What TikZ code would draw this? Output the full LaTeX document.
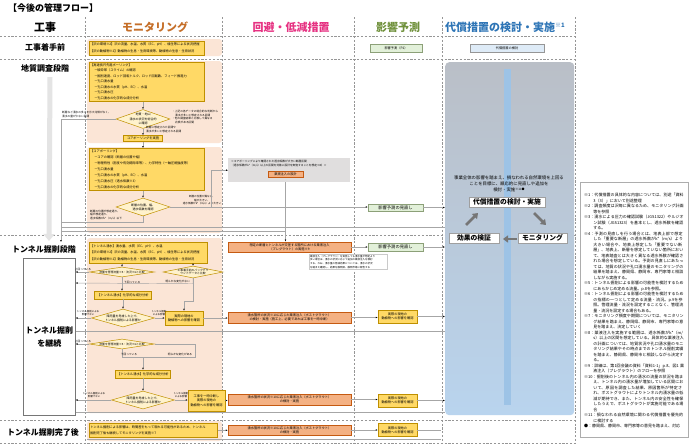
\documentclass[tikz,border=0pt]{standalone}
\usepackage{fontspec}
\setmainfont{Noto Sans CJK JP}
\XeTeXlinebreaklocale "ja"
\XeTeXlinebreakskip=0pt plus 1pt
\usepackage{xcolor}
\definecolor{PeachBg}{RGB}{251,229,214}
\definecolor{YellowFill}{RGB}{255,217,102}
\definecolor{YellowLine}{RGB}{191,144,0}
\definecolor{PaleYellow}{RGB}{255,242,204}
\definecolor{OrangeFill}{RGB}{244,177,131}
\definecolor{OrangeLine}{RGB}{197,90,17}
\definecolor{GreenFill}{RGB}{226,240,217}
\definecolor{GreenLine}{RGB}{140,160,120}
\definecolor{BlueFill}{RGB}{222,235,247}
\definecolor{GrayBox}{RGB}{224,222,222}
\definecolor{LineGray}{RGB}{166,166,166}
\definecolor{DashGray}{RGB}{150,150,150}
\definecolor{HeadOrange}{RGB}{197,110,40}
\definecolor{HeadPink}{RGB}{230,50,130}
\definecolor{HeadGreen}{RGB}{112,145,60}
\definecolor{HeadBlue}{RGB}{46,117,182}
\definecolor{CompTop}{RGB}{186,191,199}
\definecolor{CompBottom}{RGB}{185,212,238}
\definecolor{BarBlue}{RGB}{157,195,230}
\definecolor{ArrowGray}{RGB}{118,118,118}
\definecolor{ArrowLight}{RGB}{228,228,228}
\usepackage{tikz}
\usetikzlibrary{shapes.geometric}
\usetikzlibrary{arrows.meta}
\tikzstyle{Head}=[font=\fontsize{11}{12}\selectfont\bfseries,inner sep=0pt]
\tikzstyle{RowLabel}=[font=\fontsize{8}{13}\selectfont\bfseries,inner sep=0pt]
\tikzstyle{Grid}=[draw=DashGray,line width=.7pt,dash pattern=on 2.2pt off 1.6pt]
\tikzstyle{PeachArea}=[fill=PeachBg,rounded corners=3pt]
\tikzstyle{YBox}=[draw=YellowLine,fill=YellowFill,line width=.5pt,inner sep=1pt,
anchor=north west,align=left,font=\fontsize{3.2}{5.5}\selectfont]
\tikzstyle{YSmall}=[draw=YellowLine,fill=YellowFill,line width=.5pt,inner sep=.5pt,
align=center,font=\fontsize{3.2}{4.3}\selectfont]
\tikzstyle{OBox}=[draw=OrangeLine,fill=OrangeFill,line width=.5pt,inner sep=.5pt,
align=center,font=\fontsize{3.2}{4.2}\selectfont,minimum width=123,minimum height=10.5]
\tikzstyle{GBox}=[draw=GreenLine,fill=GreenFill,line width=.5pt,inner sep=.5pt,
font=\fontsize{4.3}{5}\selectfont,minimum width=55,minimum height=7.5]
\tikzstyle{Decision}=[diamond,draw=YellowLine,fill=PaleYellow,line width=.5pt,inner sep=0pt]
\tikzstyle{DecisionText}=[font=\fontsize{3}{4.2}\selectfont,align=center,inner sep=0pt]
\tikzstyle{EdgeLabel}=[font=\fontsize{2.7}{3.5}\selectfont,align=center,inner sep=0pt]
\tikzstyle{Edge}=[draw=LineGray,line width=.45pt]
\tikzstyle{Tip}=[-{Latex[length=2pt,width=1.7pt,color=black]}]
\tikzstyle{BigArrow}=[draw=ArrowGray,line width=2.6pt,-{Triangle[length=5pt,width=7pt]}]
\tikzstyle{CompBox}=[draw=ArrowGray!70,fill=white,line width=.5pt,inner sep=0pt,
font=\fontsize{6.8}{7}\selectfont\bfseries,minimum height=10]
\newcommand{\NoteItem}[2]{\par\noindent\hangindent=2.3em\hangafter=1 #1#2}

\begin{document}
\begin{tikzpicture}[x=1pt,y=-1pt]
\useasboundingbox[fill=white](0,0)rectangle(690,445);
% monitoring background
\fill[PeachArea](87,39)rectangle(222,56);
\fill[PeachArea](87,61)rectangle(222,143);
\fill[PeachArea](87,147)rectangle(222,233);
\fill[PeachArea](87,238)rectangle(222,413);
\fill[PeachArea](87,421)rectangle(222,441);
% grid
\draw[Grid](0,36)--(575,36);
\draw[Grid](0,59)--(575,59);
\draw[Grid](0,235)--(575,235);
\draw[Grid](0,420)--(575,420);
\draw[Grid](0,443)--(575,443);
\foreach \x in {85,222,354,442,575}
  \draw[Grid](\x,17)--(\x,443);
% headings
\node[font=\fontsize{9}{10}\selectfont\bfseries,anchor=west,inner sep=0pt](title)at(8,8){【今後の管理フロー】};
\node[Head](hWork)at(45,27){工事};
\node[Head,text=HeadOrange](hMon)at(155,27){モニタリング};
\node[Head,text=HeadPink](hAvoid)at(291,27){回避・低減措置};
\node[Head,text=HeadGreen](hPred)at(398,27){影響予測};
\node[Head,text=HeadBlue,anchor=west](hComp)at(445,27){代償措置の検討・実施\raisebox{3.5pt}{\fontsize{6}{6}\selectfont ※1}};
% stages
\node[RowLabel](rPre)at(45,47){工事着手前};
\node[RowLabel](rGeo)at(45,68){地質調査段階};
\node[RowLabel](rTun)at(44,249){トンネル掘削段階};
\node[RowLabel](rEnd)at(43,432){トンネル掘削完了後};
\draw[line width=5pt,draw=ArrowLight,-{Triangle[length=7pt,width=11pt]}]([xshift=5pt,yshift=-5pt]rGeo.south)--([xshift=5pt,yshift=4pt]rTun.north);
\node[RowLabel,draw=ArrowGray,fill=white,line width=.6pt,minimum width=52,minimum height=157,align=center,anchor=north west](cont)at(23,258){トンネル掘削\\を継続};
% compensation column
\node[rounded corners=4pt,top color=CompTop,bottom color=CompBottom,minimum width=129,minimum height=353,anchor=north west](comp)at(445,62){};
\node[fill=BarBlue,minimum width=7,minimum height=336,inner sep=0pt,anchor=north](bar)at(507.5,69){};
\node[font=\fontsize{4.4}{5.8}\selectfont,align=center,inner sep=0pt](compText)at(509,184){事業全体の影響を踏まえ、損なわれる自然環境を上回る\\ことを目標に、順応的に見直しや追加を\\検討・実施\raisebox{1pt}{\fontsize{3}{3}\selectfont ※11●}};
\node[CompBox,minimum width=76](compMain)at(507,202){代償措置の検討・実施};
\node[CompBox,minimum width=50](verify)at(474,238){効果の検証};
\node[CompBox,minimum width=49](monitor)at(542.5,238){モニタリング};
\coordinate(a1s)at(466,225);\coordinate(a1e)at(478,213);
\coordinate(a2s)at(534,213);\coordinate(a2e)at(546,225);
\coordinate(a3s)at(517,239);\coordinate(a3e)at(503,239);
\draw[BigArrow](a1s)--(a1e);
\draw[BigArrow](a2s)--(a2e);
\draw[BigArrow](a3s)--(a3e);
\node[draw=DashGray,fill=BlueFill,line width=.5pt,minimum width=74,minimum height=8,inner sep=0pt,font=\fontsize{3.2}{4}\selectfont](compPre)at(507,48){代償措置の検討};
% before construction
\node[YBox,text width=113,minimum height=13.5,font=\fontsize{3.2}{6.5}\selectfont](mPre)at(89,41){【沢の環境※2】沢の流量、水温、水質（EC、pH）、植生等による状況把握\\【沢の動植物※2】動植物の生息・生育環境等、動植物の生息・生育状況};
\node[GBox,minimum width=52,minimum height=8,font=\fontsize{3.2}{4}\selectfont](predPre)at(396,48){影響予測（P2）};
% geological survey
\node[YBox,text width=113,minimum height=39](mBor)at(89,62){【高速長尺先進ボーリング】\\
\hspace*{4pt}－破砕帯（スライム）の確認\\
\hspace*{4pt}－掘削速度、ロッド回転トルク、ロッド回転数、フィード推進力\\
\hspace*{4pt}－孔口湧水量\\
\hspace*{4pt}－孔口湧水の水質（pH、EC）、水温\\
\hspace*{4pt}－孔口湧水圧\\
\hspace*{4pt}－孔口湧水の化学的な成分分析};
\node[Decision,minimum width=54,minimum height=19,label={[DecisionText]center:{地質・地山\\湧水の状況を総合的\\に確認}}](q1)at(143,119){};
\node[EdgeLabel,align=left,anchor=south west](l1)at(62,117.5){断層など湧水の多さを示す兆候がなく、\\湧水の量が少ない区間};
\node[EdgeLabel,align=left,anchor=west](l2)at(172,117){・上記の各データの総合的な判断から\\\hspace*{3pt}湧水が多いと想定される区間\\・他の調査結果と比較して異なる\\\hspace*{3pt}兆候がある区間};
\node[EdgeLabel,align=left,anchor=west](l3)at(146,129.5){断層に想定された区間や\\湧水が多いと想定される区間};
\node[YSmall,minimum width=39,minimum height=6](doCore)at(143,138.5){コアボーリングを実施};
\node[YBox,text width=113,minimum height=42,font=\fontsize{3.2}{6}\selectfont](mCore)at(89,148){【コアボーリング】\\
\hspace*{4pt}－コアの確認（断層の位置や幅）\\
\hspace*{4pt}－物理特性（密度や有効間隙率等）、力学特性（一軸圧縮強度等）\\
\hspace*{4pt}－孔口湧水量\\
\hspace*{4pt}－孔口湧水の水質（pH、EC）、水温\\
\hspace*{4pt}－孔口湧水圧（透水係数※3）\\
\hspace*{4pt}－孔口湧水の化学的な成分分析};
\node[Decision,minimum width=54,minimum height=18,label={[DecisionText]center:{断層の位置、幅、\\透水係数を確認}}](q2)at(143,207){};
\node[EdgeLabel,font=\fontsize{2.6}{3.3}\selectfont,anchor=south](l4)at(202,205){断層の位置が異なる、\\幅が大きい、\\透水係数がk*（m/s）より大きい};
\node[EdgeLabel,align=left,anchor=north west](l5)at(90,210){断層の位置が想定通り、\\幅が想定通り、\\透水係数がk*（m/s）以下};
\node[fill=GrayBox,minimum width=122,minimum height=24,anchor=north west](avoid)at(228,158){};
\node[EdgeLabel,align=left,anchor=north west](avoidText)at(231,160.5){＜コアボーリングにより確認された透水係数が大きい断層区間\\（透水係数がk*（m/s）以上の区間を対象に設計を実施することを想定※8）＞};
\node[OBox,minimum width=35,minimum height=6](design)at(285.5,174){薬液注入の設計};
\node[GBox](review1)at(395.5,207.5){影響予測の見直し};
\coordinate(geoEnd)at(61,242);
\coordinate(geoJoin)at(61,222);
\coordinate(geoJoinB)at(61,227);
\coordinate(geoJoinC)at(61,231);
\draw[Edge,Tip](mBor.south-|q1.north)--(q1.north);
\draw[Edge,Tip](q1.south)--(doCore.north);
\draw[Edge,Tip](doCore.south)--(mCore.north-|doCore.south);
\draw[Edge,Tip](q1.west)-|(geoEnd);
\draw[Edge,Tip](mCore.south-|q2.north)--(q2.north);
\draw[Edge,Tip](q2.east)--(review1.west|-q2.east);
\draw[Edge,Tip](q2.east)--++(40.5,0)|-(avoid.west);
\draw[Edge](q2.south)|-(geoJoin);
\draw[Edge,Tip](review1.east)--(comp.west|-review1.east);
\draw[Edge](comp.west|-geoJoinB)--(geoJoinB);
\draw[Edge](geoJoinC-|design.south)--(geoJoinC);
% tunnel excavation
\node[YBox,text width=116,minimum height=21,font=\fontsize{3.2}{6.6}\selectfont](mTun)at(89,242){【トンネル湧水】湧水量、水質（EC、pH）、水温\\【沢の環境※2】沢の流量、水温、水質（EC、pH）、植生等による状況把握\\【沢の動植物※2】動植物の生息・生育環境等、動植物の生息・生育状況};
\node[OBox](preg)at(289.5,247){想定の断層とトンネルが交差する箇所における薬液注入\\（プレグラウト）の実施※9};
\node[draw=LineGray!60,fill=white,line width=.3pt,anchor=north west,text width=76,inner sep=1pt,align=left,font=\fontsize{2.5}{3.6}\selectfont](pregNote)at(309,254){薬液注入（プレグラウト）を実施しても湧水量が想定より\\多い場合は、湧水の状況に応じて追加の薬液注入を検討\\する。なお、湧水量の低減効果については、湧水の状況\\を踏まえ確認し、結果を静岡県、静岡市等に報告する};
\node[GBox](review2)at(395.5,247){影響予測の見直し};
\draw[Edge,Tip](avoid.south-|design.south)--(preg.north-|design.south);
\draw[Edge,Tip](preg.east)--(review2.west|-preg.east);
\draw[Edge,Tip](review2.east)--(comp.west|-review2.east);
\node[Decision,minimum width=65,minimum height=10,label={[DecisionText,font=\fontsize{2.8}{3.5}\selectfont]center:{流量を管理流量※5・流況※6と比較}}](qA)at(122,272){};
\node[Decision,minimum width=60,minimum height=12,label={[DecisionText,font=\fontsize{2.8}{3.6}\selectfont]center:{工事着手前のバックグラ\\ウンドデータと比較}}](qB)at(193,272){};
\node[YSmall,minimum width=57,minimum height=8](chem1)at(123,295){【トンネル湧水】化学的な成分分析};
\node[Decision,minimum width=63,minimum height=18,label={[DecisionText]center:{降雨量を考慮した上で、\\トンネル掘削による影響か}}](qC)at(123,318){};
\node[YSmall,minimum width=38,minimum height=14](bio1)at(184,318){実際の現地の\\動植物への影響を確認};
\node[OBox](post1)at(289.5,317.5){湧水箇所の状況※10に応じた薬液注入（ポストグラウト）\\の検討・実施（施工上、必要であれば工事を一時中断）};
\node[YSmall,minimum width=39,minimum height=13](yel1)at(397.5,316.5){実際の現地の\\動植物への影響を確認};
\draw[Edge,Tip](mTun.south-|qA.north)--(qA.north);
\draw[Edge,Tip](mTun.south-|qB.north)--(qB.north);
\draw[Edge,Tip](qA.west)--(cont.east|-qA.west);
\node[EdgeLabel,anchor=south](lA1)at(83,271){上回っている};
\draw[Edge,Tip](qA.south)--(chem1.north-|qA.south);
\node[EdgeLabel,anchor=west](lA2)at(124,283){下回っている};
\draw[Edge,Tip](qB.south)--++(0,5.5)--(cont.east|-0,283);
\node[EdgeLabel,anchor=south east](lB1)at(190,282.5){明らかな変化がない};
\draw[Edge,Tip](qB.south)--++(0,23)-|(bio1.north);
\draw[Edge,Tip](chem1.south)--(qC.north);
\draw[Edge,Tip](qC.west)--(cont.east|-qC.west);
\node[EdgeLabel,anchor=south,font=\fontsize{2.5}{3.3}\selectfont](lC1)at(88,316){トンネル掘削による\\影響でない};
\draw[Edge,Tip](qC.east)--(bio1.west|-qC.east);
\node[EdgeLabel,anchor=south,font=\fontsize{2.5}{3.3}\selectfont](lC2)at(159,316){トンネル掘削\\による影響};
\draw[Edge,Tip](bio1.east)--(post1.west|-bio1.east);
\draw[Edge,Tip](post1.east)--(yel1.west|-post1.east);
\draw[Edge,Tip](yel1.east)--(comp.west|-yel1.east);
\draw[Edge](cont.east|-0,331)--(comp.west|-0,331);
% tunnel excavation, continued
\node[Decision,minimum width=65,minimum height=10,label={[DecisionText,font=\fontsize{2.8}{3.5}\selectfont]center:{流量を管理流量※5・流況※6と比較}}](qD)at(122,344){};
\node[YSmall,minimum width=55,minimum height=8](chem2)at(143,374){【トンネル湧水】化学的な成分分析};
\node[Decision,minimum width=63,minimum height=18,label={[DecisionText]center:{降雨量を考慮した上で、\\トンネル掘削による影響か}}](qE)at(143,400){};
\node[YSmall,minimum width=37,minimum height=21](stop)at(206.5,400.5){工事を一時中断し\\実際の現地の\\動植物への影響を確認};
\node[OBox](post2)at(289.5,399.5){湧水箇所の状況※10に応じた薬液注入（ポストグラウト）\\の検討・実施};
\node[YSmall,minimum width=39,minimum height=13](yel2)at(397.5,400.5){実際の現地の\\動植物への影響を確認};
\draw[Edge,Tip](qD.west)--(cont.east|-qD.west);
\node[EdgeLabel,anchor=south](lD1)at(83,343){上回っている};
\draw[Edge,Tip](qD.south)--++(0,8)-|(chem2.north);
\draw[Edge](qD.east)-|(195,357)--(chem2.north|-0,357);
\node[EdgeLabel,anchor=south](lD2)at(129,356){下回っている};
\node[EdgeLabel,anchor=south](lD3)at(180,356){明らかな変化がある};
\draw[Edge,Tip](chem2.south)--(qE.north);
\draw[Edge,Tip](qE.west)--(cont.east|-qE.west);
\node[EdgeLabel,anchor=south,font=\fontsize{2.5}{3.3}\selectfont](lE1)at(94,398){トンネル掘削による\\影響でない};
\draw[Edge,Tip](qE.east)--(stop.west|-qE.east);
\node[EdgeLabel,anchor=south,font=\fontsize{2.5}{3.3}\selectfont](lE2)at(181,398){トンネル掘削\\による影響};
\draw[Edge,Tip](stop.east)--(post2.west|-stop.east);
\draw[Edge,Tip](post2.east)--(yel2.west|-post2.east);
\draw[Edge,Tip](yel2.east)--(comp.west|-yel2.east);
\draw[Edge](cont.east|-0,412)--(comp.west|-0,412);
% after excavation
\node[YBox,text width=126,minimum height=14,font=\fontsize{3.2}{6}\selectfont](done)at(89,423){トンネル掘削による影響は、時間差をもって現れる可能性があるため、トンネル\\掘削完了後も継続してモニタリングを実施※7};
\node[OBox](post3)at(289.5,430){湧水箇所の状況※10に応じた薬液注入（ポストグラウト）\\の検討・実施};
\node[YSmall,minimum width=39,minimum height=13](yel3)at(397.5,430){実際の現地の\\動植物への影響を確認};
\coordinate(endA)at(441,430);
\coordinate(endL)at(87,439);
\coordinate(endR)at(441,439);
\draw[Edge,Tip](done.east)--(post3.west|-done.east);
\draw[Edge,Tip](post3.east)--(yel3.west|-post3.east);
\draw[Edge](yel3.east)--(endA);
\draw[Edge](endL)--(endR);
% notes
\node[draw=ArrowGray!60,line width=.6pt,minimum width=108,minimum height=255,anchor=north west](notesFrame)at(580,182){};
\node[anchor=north west,text width=100,align=left,inner sep=0pt,font=\fontsize{4}{5.5}\selectfont](notes)at(584,191){%
\NoteItem{※1：}{代償措置の具体的な内容については、別途「資料3（3）」において別途整理}
\NoteItem{※2：}{調査頻度は沢毎に異なるため、モニタリング計画等を参照}
\NoteItem{※3：}{湧水による圧力の確認試験（JGS1322）やルジオン試験（JGS1323）を基本とし、透水係数を確認する。}
\NoteItem{※4：}{予測の見直しを行う場合とは、地表上部で想定した「重要な断層」の透水係数がk*（m/s）より大きい場合や、地表上想定した「重要でない断層」、地表上、断層を想定していない箇所において、地表踏査とは大きく異なる透水係数が確認された場合を想定している。予測の見直しにあたっては、地質の状況や孔口湧水量のモニタリングの結果を踏まえ、静岡県、静岡市、専門家等と相談しながら実施する。}
\NoteItem{※5：}{トンネル掘削による影響の可能性を検討するためにあらかじめ定める流量。p.8を参照。}
\NoteItem{※6：}{トンネル掘削による影響の可能性を検討するための指標の一つとして定める流量・流況。p.9を参照。管理流量・流況を設定することなく、管理流量・流況を設定する場合もある。}
\NoteItem{※7：}{モニタリング頻度や期間については、モニタリング結果を踏まえ、静岡県、静岡市、専門家等の意見を踏まえ、決定していく}
\NoteItem{※8：}{薬液注入を実施する範囲は、透水係数がk*（m/s）以上の区間を想定している。具体的な薬液注入の計画については、地質状況や孔口湧水量のモニタリング結果やその時点までのトンネル掘削実績を踏まえ、静岡県、静岡市と相談しながら決定する。}
\NoteItem{※9：}{詳細は、第1回会議の資料「資料1-1」p.8、図1 薬液注入（プレグラウト）のフローを参照}
\NoteItem{※10：}{掘削後のトンネル内の湧水の流量の状況を踏まえ、トンネル内の湧水量が増加している区間において、原因を調査した結果、原因箇所が特定され、ポストグラウトによりトンネル内湧水量の低減が期待でき、また、トンネル内の安全性を確保したうえで、ポストグラウトが実施可能である場合}
\NoteItem{※11：}{損なわれる自然環境に関わる代償措置を優先的に検討する}
\NoteItem{●：}{静岡県、静岡市、専門家等の意見を踏まえ、対応}};
\end{tikzpicture}
\end{document}
